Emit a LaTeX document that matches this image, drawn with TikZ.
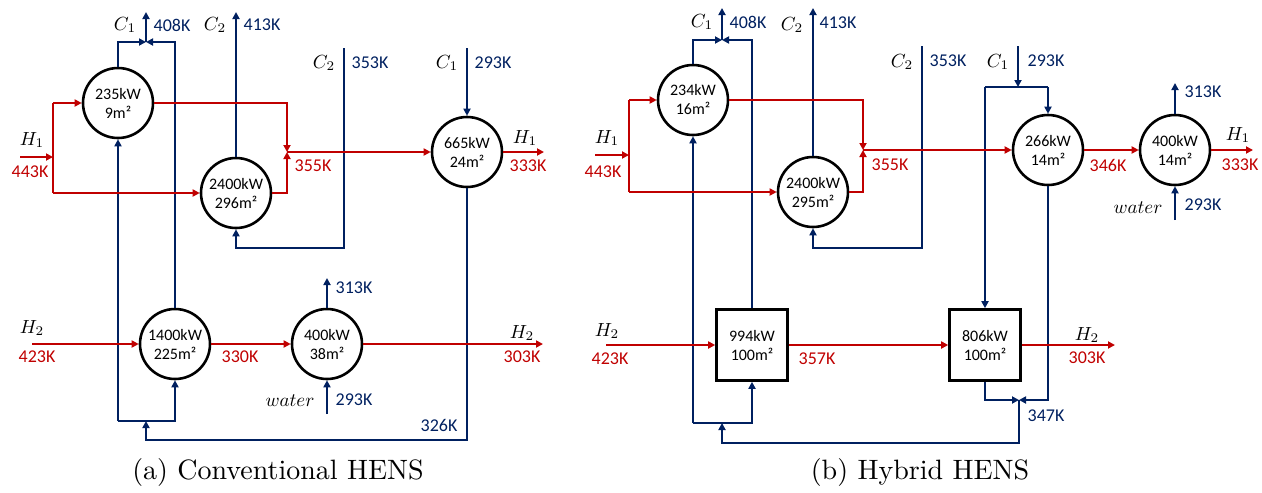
\documentclass[tikz,border=0pt]{standalone}
\usepackage{fontspec}
\usepackage{graphicx}
\newfontfamily\carl{Carlito}
\usetikzlibrary{arrows.meta}
\definecolor{hred}{RGB}{192,0,0}
\definecolor{hblue}{RGB}{0,32,96}
\newcommand\mlab[1]{\scalebox{1.9}{$#1$}}
\newcommand\captxt[1]{\scalebox{2.8}{#1}}
\begin{document}
\begin{tikzpicture}[x=1pt,y=-1pt,
  hx/.style={circle,draw=black,line width=2.6pt,fill=white,minimum size=70pt,inner sep=0pt,align=center,font=\carl\fontsize{16}{19}\selectfont},
  bxs/.style={rectangle,draw=black,line width=2.6pt,fill=white,minimum size=71pt,inner sep=0pt,align=center,font=\carl\fontsize{16}{19}\selectfont},
  hot/.style={draw=hred,line width=2.3pt},
  cold/.style={draw=hblue,line width=2.3pt},
  tip/.style={-{Triangle[length=7pt,width=7pt]}},
  rl/.style={text=hred,font=\carl\fontsize{18}{20}\selectfont,inner sep=0pt},
  bl/.style={text=hblue,font=\carl\fontsize{18}{20}\selectfont,inner sep=0pt},
  ml/.style={font=\fontsize{10}{12}\selectfont,inner sep=0pt},
  capt/.style={font=\fontsize{10}{12}\selectfont,inner sep=0pt}]
\useasboundingbox (0,0) rectangle (1262,493);

% ---------- (a) nodes ----------
\node[hx] (hx1) at (118,103) {235kW\\9m²};
\node[hx] (hx2) at (236,193) {2400kW\\296m²};
\node[hx] (hx3) at (467,152) {665kW\\24m²};
\node[hx] (hx4) at (175,344) {1400kW\\225m²};
\node[hx] (hx5) at (327,344) {400kW\\38m²};

\coordinate (aJc1) at (146,42);
\coordinate (aC1out) at (146,12);
\coordinate (aB1) at (118,421);
\coordinate (aJb) at (146,421);
\coordinate (aB3) at (146,440);
\coordinate (aC2out) at (236,12);
\coordinate (aC2in) at (344,48);
\coordinate (aB4) at (236,248);
\coordinate (aC1in) at (467,48);
\coordinate (aW1out) at (327,278);
\coordinate (aW1in) at (327,414);
\coordinate (aH1in) at (20,157);
\coordinate (aS1) at (53,157);
\coordinate (aS1t) at (53,103);
\coordinate (aS1b) at (53,193);
\coordinate (aJ1) at (287,152);
\coordinate (aH1out) at (544,152);
\coordinate (aH2in) at (32,344);
\coordinate (aH2out) at (543,344);

% (a) cold streams
\draw[cold,tip] (hx1.north) |- (aJc1);
\draw[cold,tip] (hx4.north) |- (aJc1);
\draw[cold,tip] (aJc1) -- (aC1out);
\draw[cold,tip] (aB1) -- (hx1.south);
\draw[cold,tip] (aB1) -| (hx4.south);
\draw[cold,tip] (hx3.south) |- (aB3) -- (aJb);
\draw[cold,tip] (hx2.north) -- (aC2out);
\draw[cold,tip] (aC2in) |- (aB4) -- (hx2.south);
\draw[cold,tip] (aC1in) -- (hx3.north);
\draw[cold,tip] (hx5.north) -- (aW1out);
\draw[cold,tip] (aW1in) -- (hx5.south);

% (a) hot streams
\draw[hot,tip] (aH1in) -- (aS1);
\draw[hot] (aS1t) -- (aS1b);
\draw[hot,tip] (aS1t) -- (hx1.west);
\draw[hot,tip] (aS1b) -- (hx2.west);
\draw[hot,tip] (hx1.east) -| (aJ1);
\draw[hot,tip] (hx2.east) -| (aJ1);
\draw[hot,tip] (aJ1) -- (hx3.west);
\draw[hot,tip] (hx3.east) -- (aH1out);
\draw[hot,tip] (aH2in) -- (hx4.west);
\draw[hot,tip] (hx4.east) -- (hx5.west);
\draw[hot,tip] (hx5.east) -- (aH2out);

% (a) labels
\node[ml] (la1) at (32,140) {\mlab{H_1}};
\node[rl] (la2) at (30,172) {443K};
\node[rl] (la3) at (313,166) {355K};
\node[ml] (la4) at (525,138) {\mlab{H_1}};
\node[rl] (la5) at (528,166) {333K};
\node[ml] (la6) at (125,25) {\mlab{C_1}};
\node[bl] (la7) at (172,25) {408K};
\node[ml] (la8) at (215,25) {\mlab{C_2}};
\node[bl] (la9) at (262,25) {413K};
\node[ml] (la10) at (324,63) {\mlab{C_2}};
\node[bl] (la11) at (370,63) {353K};
\node[ml] (la12) at (447,63) {\mlab{C_1}};
\node[bl] (la13) at (493,63) {293K};
\node[ml] (la14) at (32,328) {\mlab{H_2}};
\node[rl] (la15) at (37,357) {423K};
\node[rl] (la16) at (240,357) {330K};
\node[ml] (la17) at (522,333) {\mlab{H_2}};
\node[rl] (la18) at (522,357) {303K};
\node[bl] (la19) at (354,288) {313K};
\node[ml] (la20) at (290,401) {\mlab{water}};
\node[bl] (la21) at (354,400) {293K};
\node[bl] (la22) at (439,425) {326K};

% ---------- (b) nodes ----------
\node[hx] (hy1) at (693,100) {234kW\\16m²};
\node[hx] (hy2) at (813,192) {2400kW\\295m²};
\node[hx] (hy3) at (1048,150) {266kW\\14m²};
\node[hx] (hy4) at (1175,150) {400kW\\14m²};
\node[bxs] (bx1) at (752,345) {994kW\\100m²};
\node[bxs] (bx2) at (985,345) {806kW\\100m²};

\coordinate (bJc1) at (722,40);
\coordinate (bC1out) at (722,8);
\coordinate (bB1) at (693,423);
\coordinate (bJb) at (722,423);
\coordinate (bB3) at (722,443);
\coordinate (bJ2) at (1019,400);
\coordinate (bC2out) at (813,8);
\coordinate (bC2in) at (922,46);
\coordinate (bB4) at (813,248);
\coordinate (bC1in) at (1018,46);
\coordinate (bJc2) at (1018,87);
\coordinate (bL) at (985,87);
\coordinate (bR) at (1048,87);
\coordinate (bW1out) at (1175,83);
\coordinate (bW1in) at (1175,220);
\coordinate (bH1in) at (595,155);
\coordinate (bS1) at (629,155);
\coordinate (bS1t) at (629,100);
\coordinate (bS1b) at (629,192);
\coordinate (bJ1) at (863,150);
\coordinate (bH1out) at (1253,150);
\coordinate (bH2in) at (606,345);
\coordinate (bH2out) at (1115,345);

% (b) cold streams
\draw[cold,tip] (hy1.north) |- (bJc1);
\draw[cold,tip] (bx1.north) |- (bJc1);
\draw[cold,tip] (bJc1) -- (bC1out);
\draw[cold,tip] (bB1) -- (hy1.south);
\draw[cold,tip] (bB1) -| (bx1.south);
\draw[cold,tip] (bJ2) |- (bB3) -- (bJb);
\draw[cold,tip] (hy2.north) -- (bC2out);
\draw[cold,tip] (bC2in) |- (bB4) -- (hy2.south);
\draw[cold,tip] (bC1in) -- (bJc2);
\draw[cold] (bL) -- (bR);
\draw[cold,tip] (bR) -- (hy3.north);
\draw[cold,tip] (bL) -- (bx2.north);
\draw[cold,tip] (bx2.south) |- (bJ2);
\draw[cold,tip] (hy3.south) |- (bJ2);
\draw[cold,tip] (hy4.north) -- (bW1out);
\draw[cold,tip] (bW1in) -- (hy4.south);

% (b) hot streams
\draw[hot,tip] (bH1in) -- (bS1);
\draw[hot] (bS1t) -- (bS1b);
\draw[hot,tip] (bS1t) -- (hy1.west);
\draw[hot,tip] (bS1b) -- (hy2.west);
\draw[hot,tip] (hy1.east) -| (bJ1);
\draw[hot,tip] (hy2.east) -| (bJ1);
\draw[hot,tip] (bJ1) -- (hy3.west);
\draw[hot,tip] (hy3.east) -- (hy4.west);
\draw[hot,tip] (hy4.east) -- (bH1out);
\draw[hot,tip] (bH2in) -- (bx1.west);
\draw[hot,tip] (bx1.east) -- (bx2.west);
\draw[hot,tip] (bx2.east) -- (bH2out);

% (b) labels
\node[ml] (lb1) at (607,138) {\mlab{H_1}};
\node[rl] (lb2) at (603,172) {443K};
\node[rl] (lb3) at (890,165) {355K};
\node[rl] (lb4) at (1108,165) {346K};
\node[ml] (lb5) at (1238,135) {\mlab{H_1}};
\node[rl] (lb6) at (1240,165) {333K};
\node[ml] (lb7) at (702,22) {\mlab{C_1}};
\node[bl] (lb8) at (748,22) {408K};
\node[ml] (lb9) at (792,25) {\mlab{C_2}};
\node[bl] (lb10) at (838,23) {413K};
\node[ml] (lb11) at (902,62) {\mlab{C_2}};
\node[bl] (lb12) at (948,61) {353K};
\node[ml] (lb13) at (998,62) {\mlab{C_1}};
\node[bl] (lb14) at (1046,61) {293K};
\node[bl] (lb15) at (1203,92) {313K};
\node[ml] (lb16) at (1138,208) {\mlab{water}};
\node[bl] (lb17) at (1203,205) {293K};
\node[ml] (lb18) at (607,331) {\mlab{H_2}};
\node[rl] (lb19) at (610,359) {423K};
\node[rl] (lb20) at (817,359) {357K};
\node[ml] (lb21) at (1087,335) {\mlab{H_2}};
\node[rl] (lb22) at (1087,358) {303K};
\node[bl] (lb23) at (1046,416) {347K};

% captions
\node[capt] (capa) at (278,472) {\captxt{(a) Conventional HENS}};
\node[capt] (capb) at (920,472) {\captxt{(b) Hybrid HENS}};
\end{tikzpicture}
\end{document}
